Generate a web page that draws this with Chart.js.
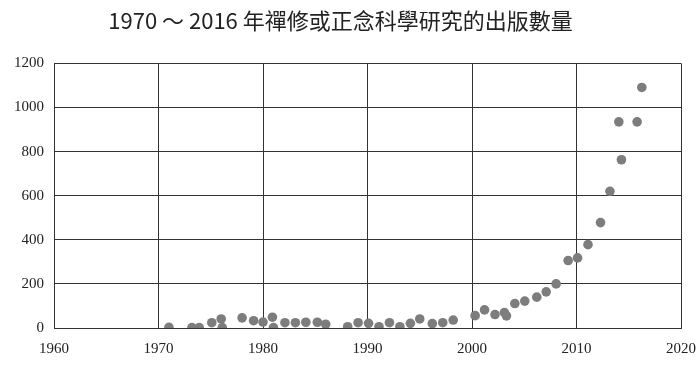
<!DOCTYPE html>
<html>
<head>
<meta charset="utf-8">
<script src="https://cdn.jsdelivr.net/npm/chart.js@4"></script>
<style>
  html, body { margin: 0; padding: 0; background: #fff; }
  #wrap { width: 697px; height: 367px; }
</style>
</head>
<body>
<div id="wrap"><canvas id="grafico"></canvas></div>
<script>
const years = [1971, 1973.2, 1973.9, 1975.1, 1976, 1976.1, 1978, 1979.1, 1980, 1980.9, 1981,
    1982.1, 1983.1, 1984.1, 1985.2, 1986, 1988.1, 1989.1, 1990.1, 1991.1, 1992.1, 1993.1,
    1994.1, 1995, 1996.2, 1997.2, 1998.2, 2000.3, 2001.2, 2002.2, 2003.1, 2003.3, 2004.1,
    2005.05, 2006.2, 2007.1, 2008.05, 2009.2, 2010.1, 2011.1, 2012.3, 2013.2, 2014.3,
    2014.05, 2015.8, 2016.25];
const counts = [3, 2, 2, 24, 41, 2, 46, 33, 27, 49, 2,
    24, 24, 26, 26, 17, 6, 24, 21, 6, 24, 6,
    21, 41, 20, 24, 36, 56, 82, 61, 70, 55, 111,
    122, 140, 164, 200, 306, 318, 378, 478, 620, 763,
    935, 935, 1091];
const titulo = '1970 ～ 2016 年禪修或正念科學研究的出版數量';

const puntos = years.map((x, i) => ({ x: x, y: counts[i] }));

const ctx = document.getElementById('grafico');
const tickFont = { family: '"Liberation Serif", serif', size: 15 };

new Chart(ctx, {
    type: 'scatter',
    data: {
        datasets: [{
            data: puntos,
            backgroundColor: '#7d7d7d',
            borderWidth: 0,
            pointRadius: 4.8,
            pointHoverRadius: 4.8
        }]
    },
    options: {
        responsive: true,
        maintainAspectRatio: false,
        animation: false,
        layout: { padding: { left: 0, right: 16, top: 0, bottom: 0 } },
        plugins: {
            legend: { display: false },
            tooltip: { enabled: false },
            title: {
                display: true,
                text: titulo,
                color: '#222',
                font: { family: '"Noto Sans CJK TC", "Noto Sans", sans-serif', size: 22, weight: 'normal' },
                padding: { top: 7, bottom: 30 }
            }
        },
        scales: {
            x: {
                type: 'linear',
                min: 1960,
                max: 2020,
                ticks: {
                    stepSize: 10, color: '#222', font: tickFont, padding: 12, maxRotation: 0,
                    callback: (v) => String(v)
                },
                grid: { color: '#333', lineWidth: 1, drawTicks: false },
                border: { color: '#333', width: 1 },
                afterFit: (s) => { s.height = 39; s.paddingRight = 0; }
            },
            y: {
                min: 0,
                max: 1200,
                ticks: {
                    stepSize: 200, color: '#222', font: tickFont, padding: 10,
                    callback: (v) => String(v)
                },
                grid: { color: '#333', lineWidth: 1, drawTicks: false },
                border: { color: '#333', width: 1 },
                afterFit: (s) => { s.width = 54; }
            }
        }
    }
});
</script>
</body>
</html>
